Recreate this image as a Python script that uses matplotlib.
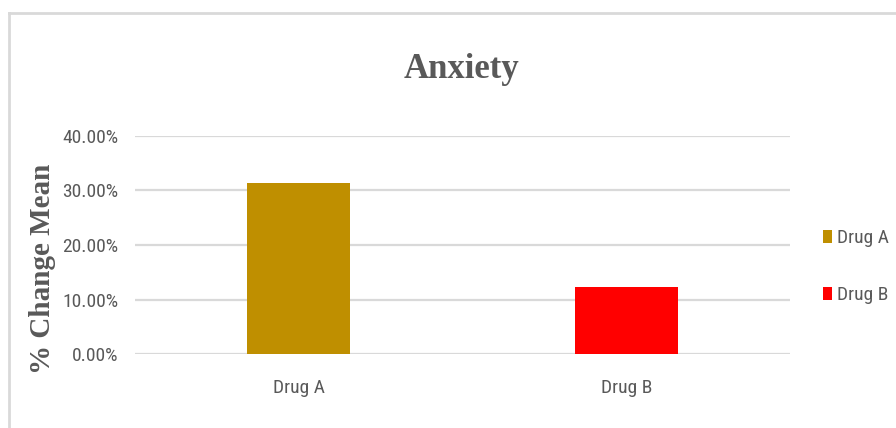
import matplotlib
matplotlib.use("Agg")
import matplotlib.pyplot as plt
from matplotlib import font_manager
from matplotlib.font_manager import FontProperties
from matplotlib.patches import Patch
from matplotlib.lines import Line2D
from matplotlib.ticker import PercentFormatter

# Data
categories = ["Drug A", "Drug B"]
change_mean = [0.313, 0.124]
bar_colors = ["#BF8F00", "#FF0000"]
y_ticks = [0.0, 0.1, 0.2, 0.3, 0.4]


def find_font(preferred, condensed_hint, serif, bold):
    """Return a font file path: a preferred narrow family if present,
    otherwise any condensed face of the right kind, otherwise None."""
    fonts = font_manager.fontManager.ttflist
    want_w = (lambda w: (w if isinstance(w, int) else 400) >= 600) if bold else \
             (lambda w: 300 <= (w if isinstance(w, int) else 400) < 500)
    for name in preferred:
        for f in fonts:
            if f.name == name and want_w(f.weight) and f.style == "normal":
                return f.fname
    for f in fonts:
        st = str(f.stretch)
        is_cond = st in ("condensed", "semi-condensed", "extra-condensed",
                         "ultra-condensed") or "ondensed" in f.fname or "Narrow" in f.fname
        is_serif = "Serif" in f.name or "Serif" in f.fname
        if is_cond and is_serif == serif and f.style == "normal" and want_w(f.weight) \
                and any(h in f.fname for h in condensed_hint):
            return f.fname
    return None


sans_path = find_font(["Liberation Sans Narrow", "Roboto Condensed", "Open Sans Condensed",
                       "Noto Sans Condensed", "DejaVu Sans Condensed"],
                      ["Liberation", "Roboto", "Open", "Noto", "DejaVu", "Lato", "Inter"],
                      serif=False, bold=False)

label_font = FontProperties(fname=sans_path, size=14) if sans_path else \
    FontProperties(family=["Liberation Sans", "DejaVu Sans"], size=12)
title_font = FontProperties(family=["Liberation Serif", "DejaVu Serif"], weight="bold", size=25)
ylabel_font = FontProperties(family=["Liberation Serif", "DejaVu Serif"], weight="bold", size=21)

W, H = 896, 428
fig = plt.figure(figsize=(W / 100, H / 100), dpi=100)
fig.patch.set_facecolor("white")

text_gray = "#595959"
grid_gray = "#D9D9D9"

# Plot area
ax = fig.add_axes([135 / W, 1 - 354.3 / H, 655 / W, 218.6 / H])
x = list(range(len(categories)))
ax.bar(x, change_mean, width=0.314, color=bar_colors, edgecolor="none", zorder=3)

ax.set_xlim(-0.5, len(categories) - 0.5)
ax.set_ylim(0, 0.4)
ax.set_yticks(y_ticks)
ax.yaxis.set_major_formatter(PercentFormatter(1.0, decimals=2))
ax.set_xticks(x)
ax.set_xticklabels(categories)

for side in ("top", "right", "left", "bottom"):
    ax.spines[side].set_visible(False)
ax.grid(axis="y", color=grid_gray, linewidth=1.6, zorder=0)
ax.set_axisbelow(True)
ax.tick_params(axis="both", length=0, colors=text_gray)
ax.tick_params(axis="y", pad=12)
ax.tick_params(axis="x", pad=18)
for lbl in ax.get_xticklabels() + ax.get_yticklabels():
    lbl.set_fontproperties(label_font)

# Title and axis label
fig.text(461 / W, 1 - 70 / H, "Anxiety", ha="center", va="center",
         fontproperties=title_font, color=text_gray)
fig.text(43 / W, 1 - 269 / H, "% Change Mean", ha="center", va="center",
         rotation=90, fontproperties=ylabel_font, color=text_gray)

# Legend
handles = [Patch(facecolor=c, edgecolor="none", label=n) for c, n in zip(bar_colors, categories)]
leg = fig.legend(handles=handles, loc="center left",
                 bbox_to_anchor=(805 / W, 1 - 266.5 / H),
                 frameon=False, handlelength=0.5, handleheight=0.65,
                 handletextpad=0.25, labelspacing=2.0, prop=label_font)
for t in leg.get_texts():
    t.set_color(text_gray)

# Chart frame
frame_kw = dict(color=grid_gray, linewidth=2.0, transform=fig.transFigure)
fig.add_artist(Line2D([9 / W, 1.0], [1 - 13 / H, 1 - 13 / H], **frame_kw))
fig.add_artist(Line2D([9 / W, 9 / W], [1 - 13 / H, 0.0], **frame_kw))

fig.savefig("out.png", dpi=100, facecolor="white")
